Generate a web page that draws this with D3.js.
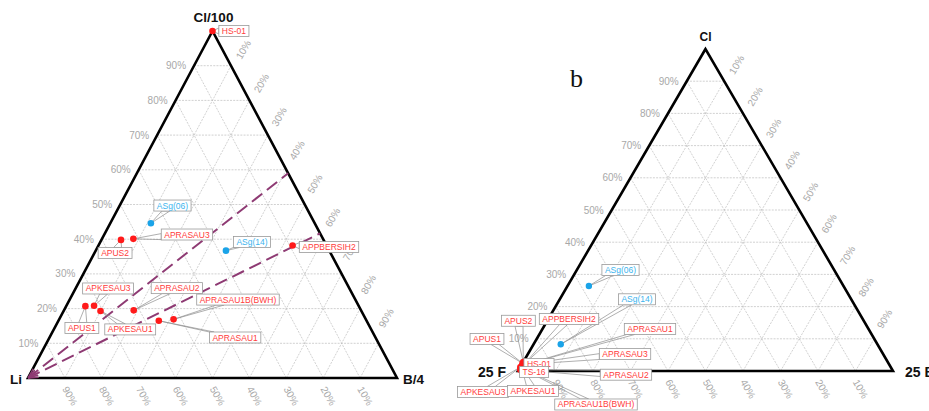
<!DOCTYPE html>
<html><head><meta charset="utf-8">
<script src="https://cdn.jsdelivr.net/npm/d3@7"></script>
<style>body{margin:0;background:#fff} svg{display:block}</style>
</head><body><svg id="c" width="929" height="411"></svg>
<script>
// ---------------- data ----------------
const tickValues = [0.1,0.2,0.3,0.4,0.5,0.6,0.7,0.8,0.9];
const tickLabels = ["10%","20%","30%","40%","50%","60%","70%","80%","90%"];

// Panel a: Cl/100 – Li – B/4  (fractions of Cl and B; Li = 1 - Cl - B)
const leftTitles = ["Cl/100","Li","B/4"];
const leftNames = ["HS-01","ASg(06)","APRASAU3","APUS2","ASg(14)","APPBERSIH2","APUS1","APKESAU3","APKESAU1","APRASAU2","APRASAU1","APRASAU1B(BWH)"];
const leftGroup = ["red","blue","red","red","blue","red","red","red","red","red","red","red"];
const leftCl = [1.0,0.446,0.401,0.398,0.367,0.382,0.207,0.208,0.193,0.195,0.165,0.169];
const leftB  = [0.0,0.110,0.085,0.053,0.353,0.526,0.052,0.075,0.100,0.189,0.272,0.310];
// label anchors (ternary coordinates of label centres)
const leftLabelCl = [1.0,0.497,0.4135,0.360,0.392,0.3775,0.144,0.258,0.140,0.259,0.1167,0.226];
const leftLabelB  = [0.058,0.143,0.224,0.056,0.411,0.627,0.074,0.088,0.207,0.274,0.503,0.456];
// dashed guide lines from the Li vertex to the Li = 0 edge
const guideCl = [0.59,0.417];
const guideB  = [0.41,0.583];

// Panel b: Cl – 25 F – 25 B
const rightTitles = ["Cl","25 F","25 B"];
const rightNames = ["HS-01","TS-16","APUS2","APPBERSIH2","APUS1","APRASAU1","APRASAU3","APRASAU2","APKESAU3","APKESAU1","APRASAU1B(BWH)","ASg(06)","ASg(14)"];
const rightGroup = ["red","red","red","red","red","red","red","red","red","red","red","blue","blue"];
const rightCl = [0.030,0.004,0.028,0.022,0.024,0.018,0.020,0.004,0.012,0.014,0.008,0.264,0.083];
const rightB  = [0.004,0.010,0.000,0.006,0.000,0.004,0.002,0.004,0.000,0.002,0.006,0.057,0.0725];
const rightLabelCl = [0.0217,-0.0031,0.156,0.1615,0.0994,0.1304,0.0528,-0.0115,-0.0652,-0.0621,-0.104,0.3137,0.2227];
const rightLabelB  = [0.0451,0.0443,-0.077,0.0553,-0.1324,0.2868,0.259,0.2937,-0.0607,0.071,0.26,0.1165,0.206];

// ---------------- drawing ----------------
const svg = d3.select("#c");
const FONT = "'Liberation Sans', Arial, Helvetica, sans-serif";
const COLORS = {red:"#ff1a1a", blue:"#1aa3e8"};
const TEXTCOL = {red:"#ff3c3c", blue:"#3db4ee"};

svg.append("defs").append("marker")
  .attr("id","arr").attr("viewBox","0 -5 10 10")
  .attr("refX",10).attr("refY",0)
  .attr("markerWidth",5).attr("markerHeight",5)
  .attr("markerUnits","strokeWidth")
  .attr("orient","auto-start-reverse")
  .append("path").attr("d","M0,-4L10,0L0,4")
  .attr("fill","none").attr("stroke","#8e3a73").attr("stroke-width",1.5);

function panel(geom, titles, names, group, cl, b, lcl, lb, opts) {
  const g = svg.append("g");
  const x = d3.scaleLinear().domain([0,1]).range([geom.x0, geom.x1]);
  const y = d3.scaleLinear().domain([0,1]).range([geom.yBase, geom.yApex]);
  const P = (c, bb) => [x(bb + c/2), y(c)];
  const line = d3.line();

  // grid
  const grid = g.append("g").attr("fill","none").attr("stroke","#bdbdbd")
    .attr("stroke-width",0.7).attr("stroke-dasharray","2,1.2");
  tickValues.forEach(v => {
    grid.append("path").attr("d", line([P(v,0), P(v,1-v)]));       // const Cl
    grid.append("path").attr("d", line([P(0,v), P(1-v,v)]));       // const B
    grid.append("path").attr("d", line([P(0,1-v), P(1-v,0)]));     // const left comp
  });

  // tick labels
  const tk = g.append("g").attr("fill","#a8a8a8").attr("font-family",FONT).attr("font-size",10);
  const apex = P(1,0), right = P(0,1);
  const ex = right[0]-apex[0], ey = right[1]-apex[1], el = Math.hypot(ex,ey);
  const ux = ex/el, uy = ey/el;
  const nx = uy, ny = -ux;
  tickValues.forEach((v,i) => {
    const pl = P(v,0);
    tk.append("text").attr("x",pl[0]-8).attr("y",pl[1]+3.5).attr("text-anchor","end").text(tickLabels[i]);
    const pr = P(1-v,v);
    const sh = (v-0.1)*opts.rShift;
    const sx = pr[0]+nx*12-ux*sh, sy = pr[1]+ny*12-uy*sh;
    tk.append("text").attr("transform",`translate(${sx},${sy}) rotate(-60)`).text(tickLabels[i]);
    const pb = P(0,1-v);
    tk.append("text").attr("transform",`translate(${pb[0]-3},${pb[1]+11}) rotate(60)`).text(tickLabels[i]);
  });

  // outline
  g.append("path").attr("d", line([P(1,0),P(0,0),P(0,1)]) + "Z")
    .attr("fill","none").attr("stroke","#000").attr("stroke-width",2.6).attr("stroke-linejoin","miter");

  // titles
  const tt = g.append("g").attr("font-family",FONT).attr("font-weight","bold").attr("fill","#111");
  tt.append("text").attr("x",apex[0]+opts.topDx).attr("y",apex[1]-opts.topGap).attr("text-anchor","middle")
    .attr("font-size",opts.topSize).text(titles[0]);
  const lv = P(0,0);
  tt.append("text").attr("x",lv[0]-opts.sideGap).attr("y",lv[1]+opts.sideDy).attr("text-anchor","end")
    .attr("font-size",opts.sideSize).text(titles[1]);
  tt.append("text").attr("x",right[0]+opts.sideGap).attr("y",right[1]+opts.sideDy).attr("text-anchor","start")
    .attr("font-size",opts.sideSize).text(titles[2]);

  // guide lines
  if (opts.guides) {
    opts.guides.cl.forEach((c,i) => {
      g.append("path").attr("d", line([P(0,0), P(c, opts.guides.b[i])]))
        .attr("fill","none").attr("stroke","#8e3a73").attr("stroke-width",2)
        .attr("stroke-dasharray","13,6").attr("marker-start","url(#arr)");
    });
  }

  // label boxes (measure first)
  const labLayer = g.append("g");
  const leadLayer = labLayer.append("g");
  const ptLayer = labLayer.append("g");
  const boxLayer = labLayer.append("g");
  const boxes = names.map((n,i) => {
    const c = P(lcl[i], lb[i]);
    const t = boxLayer.append("text").attr("font-family",FONT).attr("font-size",8.5)
      .attr("fill",TEXTCOL[group[i]]).attr("text-anchor","middle")
      .attr("x",c[0]).attr("y",c[1]+3).text(n);
    const w = t.node().getComputedTextLength() + 6, h = 11;
    return {x:c[0]-w/2, y:c[1]-h/2, w, h, t};
  });
  boxes.forEach(bx => {
    boxLayer.insert("rect", () => bx.t.node())
      .attr("x",bx.x).attr("y",bx.y).attr("width",bx.w).attr("height",bx.h)
      .attr("fill","#fff").attr("stroke","#9a9a9a").attr("stroke-width",0.8);
  });

  // leaders (wedges)
  names.forEach((n,i) => {
    const p = P(cl[i], b[i]);
    const bx = boxes[i];
    const cx = bx.x+bx.w/2, cy = bx.y+bx.h/2;
    const dx = cx-p[0], dy = cy-p[1];
    let tx = -Infinity, ty = -Infinity;
    if (dx !== 0) tx = ((dx>0 ? bx.x : bx.x+bx.w) - p[0]) / dx;
    if (dy !== 0) ty = ((dy>0 ? bx.y : bx.y+bx.h) - p[1]) / dy;
    const t = Math.max(tx,ty);
    if (!(t > 0)) return;
    const ix = p[0]+t*dx, iy = p[1]+t*dy;
    const clampX = v => Math.max(bx.x, Math.min(bx.x+bx.w, v));
    const clampY = v => Math.max(bx.y, Math.min(bx.y+bx.h, v));
    let A, B;
    if (t === tx) { A = [ix, clampY(iy-3)]; B = [ix, clampY(iy+3)]; }
    else { A = [clampX(ix-4), iy]; B = [clampX(ix+4), iy]; }
    leadLayer.append("path").attr("d", line([p, A, B]) + "Z")
      .attr("fill","none").attr("stroke","#8c8c8c").attr("stroke-width",0.7);
  });

  // points
  names.forEach((n,i) => {
    const p = P(cl[i], b[i]);
    ptLayer.append("circle").attr("cx",p[0]).attr("cy",p[1]).attr("r",opts.r)
      .attr("fill",COLORS[group[i]]);
  });
}

panel({x0:28, x1:397, yBase:378, yApex:31}, leftTitles, leftNames, leftGroup, leftCl, leftB, leftLabelCl, leftLabelB,
  {topGap:9, topDx:1, topSize:13.5, sideGap:6, sideDy:6, sideSize:13.5, r:3.3, rShift:13, guides:{cl:guideCl, b:guideB}});
panel({x0:518, x1:893, yBase:371, yApex:49}, rightTitles, rightNames, rightGroup, rightCl, rightB, rightLabelCl, rightLabelB,
  {topGap:8, topDx:0, topSize:12, sideGap:12, sideDy:6, sideSize:14, r:3.2, rShift:5});

svg.append("text").attr("x",570).attr("y",87).attr("font-family","'Liberation Serif', 'DejaVu Serif', serif")
  .attr("font-size",26).attr("fill","#111").text("b");
</script></body></html>
